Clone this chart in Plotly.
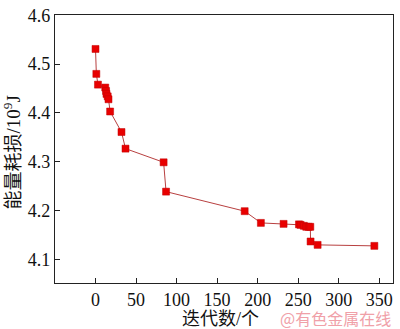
import plotly.graph_objects as go

iterations = [0, 1, 3, 12, 13, 13.5, 15, 16, 18, 32, 37, 84, 87, 184, 204, 232, 251, 253, 257, 260, 263, 265, 265.3, 274, 344]
energy = [4.531, 4.480, 4.458, 4.452, 4.445, 4.439, 4.434, 4.428, 4.403, 4.361, 4.327, 4.299, 4.239, 4.199, 4.175, 4.173, 4.172, 4.171, 4.169, 4.167, 4.167, 4.167, 4.137, 4.130, 4.128]

x_ticks = [0, 50, 100, 150, 200, 250, 300, 350]
y_ticks = [4.1, 4.2, 4.3, 4.4, 4.5, 4.6]

serif = "Liberation Serif, Times New Roman, Noto Sans CJK SC"

fig = go.Figure()
fig.add_trace(go.Scatter(
    x=iterations, y=energy, mode="lines+markers",
    line=dict(color="#b84040", width=1),
    marker=dict(symbol="square", size=7, color="#e80000", line=dict(color="#c00000", width=0.5)),
    showlegend=False,
))

axis_common = dict(
    showline=True, linecolor="#222", linewidth=1.2, mirror=True,
    ticks="inside", ticklen=5, tickcolor="#222", tickwidth=1,
    showgrid=False, zeroline=False, ticklabeloverflow="allow",
    tickfont=dict(family=serif, size=18, color="#111"),
)

fig.update_layout(
    width=400, height=329,
    margin=dict(l=55, r=6, t=6, b=46),
    paper_bgcolor="white", plot_bgcolor="white",
    xaxis=dict(range=[-50, 367], tickvals=x_ticks, **axis_common),
    yaxis=dict(range=[4.052, 4.6005], tickvals=y_ticks, tickformat=".1f", **axis_common),
    annotations=[
        dict(text="迭代数/个", x=0.49, y=-0.09, xref="paper", yref="paper",
             xanchor="center", yanchor="top", showarrow=False,
             font=dict(family=serif, size=18, color="#111")),
        dict(text="能量耗损/10<sup>9</sup>J", x=-0.127, y=0.487, xref="paper", yref="paper",
             xanchor="center", yanchor="middle", textangle=-90, showarrow=False,
             font=dict(family=serif, size=19, color="#111")),
        dict(text="@有色金属在线", x=1.0, y=-0.08, xref="paper", yref="paper",
             xanchor="right", yanchor="top", showarrow=False,
             font=dict(family="Noto Sans CJK SC", size=16, color="#f0a0a8")),
    ],
)

fig.write_html("out.html")
